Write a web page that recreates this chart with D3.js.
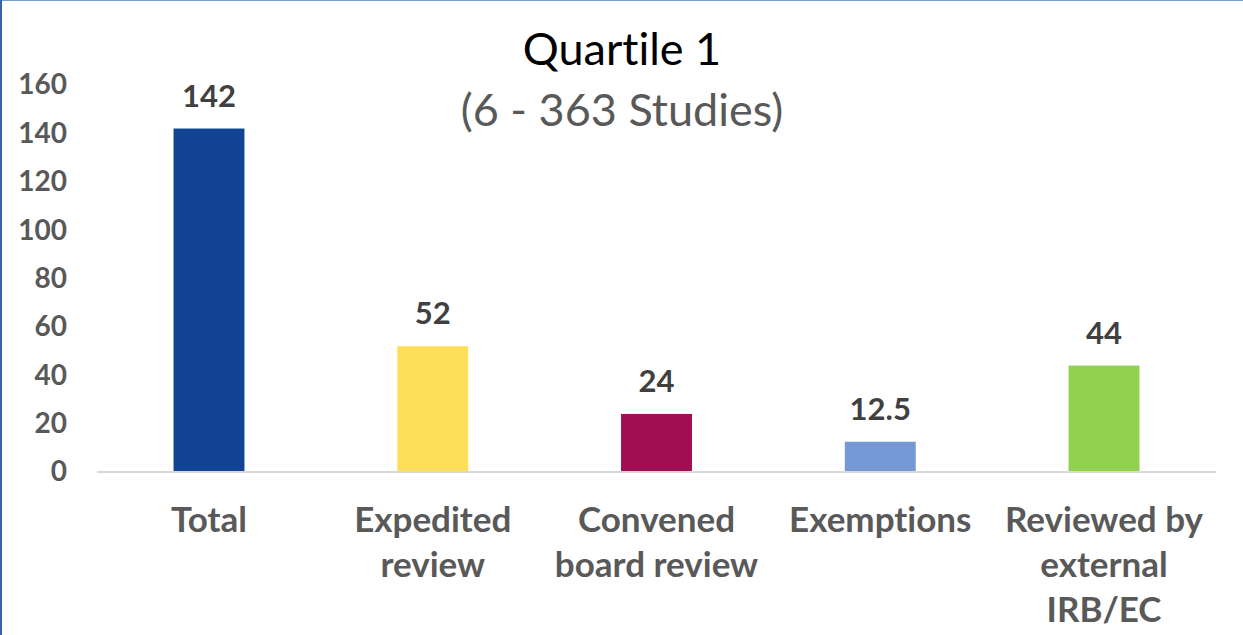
<!DOCTYPE html>
<html>
<head>
    <meta charset="utf-8">
    <title>Quartile 1 (6 - 363 Studies)</title>
    <script src="https://d3js.org/d3.v7.min.js"></script>
    <style>
        body { margin: 0; background: #fff; }
        svg { display: block; }
        text { font-variant-ligatures: none; font-feature-settings: "liga" 0; }
    </style>
</head>
<body>
    <div id="chart"></div>
    <script>

        // chart values
        var categories = ["Total", "Expedited review", "Convened board review", "Exemptions", "Reviewed by external IRB/EC"];
        var labelLines = [["Total"], ["Expedited", "review"], ["Convened", "board review"], ["Exemptions"], ["Reviewed by", "external", "IRB/EC"]];
        var values = [142, 52, 24, 12.5, 44];
        var valueLabels = ["142", "52", "24", "12.5", "44"];
        var barColors = ["#134395", "#FFDE59", "#A10F52", "#7698D5", "#92D050"];
        var yTicks = [0, 20, 40, 60, 80, 100, 120, 140, 160];

        var W = 1243, H = 635;
        var margin = { top: 85, right: 27, bottom: 163, left: 97 };
        var width = W - margin.left - margin.right;
        var height = H - margin.top - margin.bottom;
        var font = "Lato, 'Open Sans', sans-serif";

        var root = d3.select("#chart")
            .append("svg")
            .attr("width", W)
            .attr("height", H);

        // frame borders (top and left visible)
        root.append("line")
            .attr("x1", 0).attr("x2", W).attr("y1", 0.5).attr("y2", 0.5)
            .attr("stroke", "#7A9CCB").attr("stroke-width", 1);
        root.append("line")
            .attr("x1", 1).attr("x2", 1).attr("y1", 0).attr("y2", H)
            .attr("stroke", "#3A62A8").attr("stroke-width", 2);

        var svg = root.append("g")
            .attr("transform", "translate(" + margin.left + ", " + margin.top + ")");

        var xScale = d3.scaleBand()
            .domain(categories)
            .range([0, width])
            .paddingInner(0.683)
            .paddingOuter(0.342);

        var yScale = d3.scaleLinear()
            .domain([0, 160])
            .range([height, 0]);

        // y axis labels only
        var yAxis = d3.axisLeft(yScale).tickValues(yTicks).tickSize(0).tickPadding(30);
        var yg = svg.append("g").call(yAxis);
        yg.select(".domain").remove();
        yg.selectAll("text")
            .attr("font-family", font)
            .attr("font-size", "28px")
            .attr("font-weight", "bold")
            .attr("fill", "#595959");

        // bars
        svg.selectAll("rect.bar")
            .data(values)
            .join("rect")
            .attr("class", "bar")
            .attr("x", function(d, i) { return xScale(categories[i]); })
            .attr("y", function(d) { return yScale(d); })
            .attr("width", xScale.bandwidth())
            .attr("height", function(d) { return height - yScale(d); })
            .attr("fill", function(d, i) { return barColors[i]; });

        // baseline
        svg.append("line")
            .attr("x1", 0).attr("x2", width)
            .attr("y1", height).attr("y2", height)
            .attr("stroke", "#D9D9D9").attr("stroke-width", 2);

        // value labels
        svg.selectAll("text.value")
            .data(values)
            .join("text")
            .attr("class", "value")
            .attr("x", function(d, i) { return xScale(categories[i]) + xScale.bandwidth() / 2; })
            .attr("y", function(d) { return yScale(d) - 22; })
            .attr("text-anchor", "middle")
            .attr("font-family", font)
            .attr("font-size", "31px")
            .attr("font-weight", "bold")
            .attr("fill", "#404040")
            .text(function(d, i) { return valueLabels[i]; });

        // category labels
        var cat = svg.selectAll("text.cat")
            .data(categories)
            .join("text")
            .attr("class", "cat")
            .attr("x", function(d) { return xScale(d) + xScale.bandwidth() / 2; })
            .attr("y", height + 60)
            .attr("text-anchor", "middle")
            .attr("font-family", font)
            .attr("font-size", "35px")
            .attr("font-weight", "bold")
            .attr("fill", "#595959");
        cat.each(function(d, i) {
            var t = d3.select(this);
            labelLines[i].forEach(function(line, j) {
                t.append("tspan")
                    .attr("x", xScale(d) + xScale.bandwidth() / 2)
                    .attr("dy", j === 0 ? 0 : 45)
                    .text(line);
            });
        });

        // titles
        root.append("text")
            .attr("x", 622)
            .attr("y", 65)
            .attr("text-anchor", "middle")
            .attr("font-family", font)
            .attr("font-size", "45px")
            .attr("fill", "#000")
            .text("Quartile 1");

        root.append("text")
            .attr("x", 622)
            .attr("y", 126)
            .attr("text-anchor", "middle")
            .attr("font-family", font)
            .attr("font-size", "45px")
            .attr("fill", "#595959")
            .text("(6 - 363 Studies)");

    </script>
</body>
</html>
